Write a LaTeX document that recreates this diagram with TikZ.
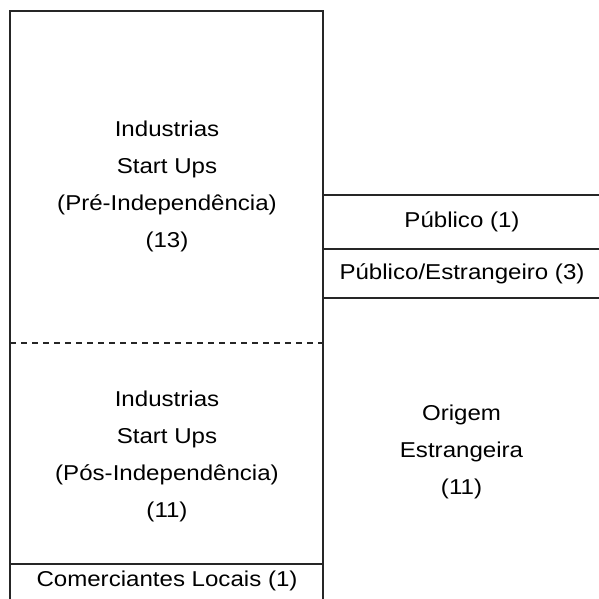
\documentclass[tikz,border=0pt]{standalone}
\usepackage{fontspec}
\setmainfont{Liberation Sans}[FakeStretch=1.12]
\usetikzlibrary{positioning}

\begin{document}
\begin{tikzpicture}[
    x=1pt, y=-1pt,
    frame/.style={line width=2.5pt, draw=black!85},
    divider/.style={line width=2pt, draw=black!85, dash pattern=on 6pt off 5pt},
    block/.style={align=center, font=\fontsize{21.5}{37}\selectfont, inner sep=0pt},
    row/.style={font=\fontsize{21.5}{24}\selectfont, inner sep=0pt}
]
\useasboundingbox (0,0) rectangle (598,599);

% Left column (runs off the bottom of the page)
\draw[frame] (10,610) -- (10,11) -- (323,11) -- (323,610);
\draw[divider] (10,342.5) -- (323,342.5);
\draw[frame] (10,564) -- (323,564);

% Right column rows (run off the right edge)
\draw[frame] (323,195) -- (610,195);
\draw[frame] (323,249) -- (610,249);
\draw[frame] (323,298) -- (610,298);

% Left column texts
\node[block] (pre) at (167,186.5) {Industrias\\Start Ups\\(Pré-Independência)\\(13)};
\node[block] (pos) at (167,456.5) {Industrias\\Start Ups\\(Pós-Independência)\\(11)};
\node[row] (local) at (167,581) {Comerciantes Locais (1)};

% Right column texts
\node[row] (pub) at (462,222) {Público (1)};
\node[row] (pubest) at (462,273.5) {Público/Estrangeiro (3)};
\node[block] (est) at (461.5,452) {Origem\\Estrangeira\\(11)};

\end{tikzpicture}
\end{document}
